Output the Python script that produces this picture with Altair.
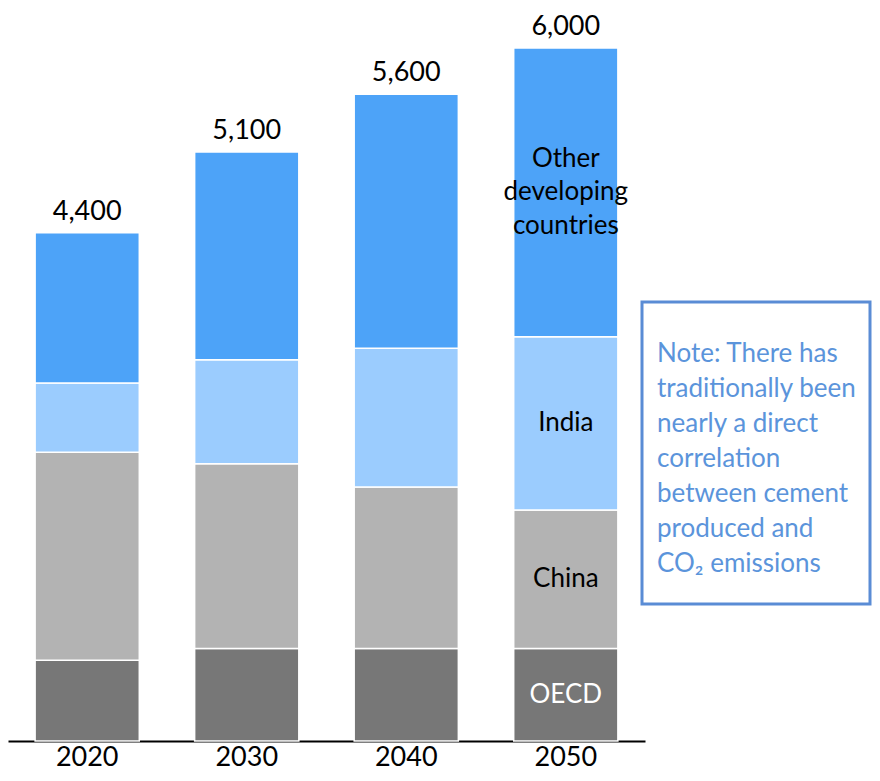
import altair as alt
import pandas as pd

years = ["2020", "2030", "2040", "2050"]
regions = ["OECD", "China", "India", "Other developing countries"]
oecd = [700, 800, 800, 800]
china = [1800, 1600, 1400, 1200]
india = [600, 900, 1200, 1500]
other = [1300, 1800, 2200, 2500]
totals = [4400, 5100, 5600, 6000]
total_labels = ["4,400", "5,100", "5,600", "6,000"]
segment_labels = ["OECD", "China", "India", "Other\ndeveloping\ncountries"]
colors = ["#777777", "#b3b3b3", "#9bccfe", "#4da3f8"]
note_lines = ["Note: There has", "traditionally been", "nearly a direct", "correlation",
              "between cement", "produced and", "CO₂ emissions"]

FONT = "Lato"

rows = []
series = [oecd, china, india, other]
for i, y in enumerate(years):
    base = 0
    for j, r in enumerate(regions):
        v = series[j][i]
        rows.append({"year": y, "region": r, "start": base, "end": base + v,
                     "mid": base + v / 2,
                     "label": segment_labels[j] if y == years[-1] else ""})
        base += v
df = pd.DataFrame(rows)
tot = pd.DataFrame({"year": years, "total": totals, "label": total_labels})

xenc = alt.X("year:N", sort=years,
             scale=alt.Scale(paddingInner=0.347, paddingOuter=0.17),
             axis=alt.Axis(title=None, labelAngle=0, labelFont=FONT, labelFontSize=27,
                           labelColor="black", labelPadding=3, ticks=False,
                           domainColor="black", domainWidth=2))
yscale = alt.Scale(domain=[0, 6329], nice=False, zero=True)

bars = alt.Chart(df).mark_bar(stroke="white", strokeWidth=1.5).encode(
    x=xenc,
    y=alt.Y("start:Q", scale=yscale, axis=None),
    y2="end:Q",
    color=alt.Color("region:N", sort=regions,
                    scale=alt.Scale(domain=regions, range=colors), legend=None),
)

seg_text = alt.Chart(df).transform_filter(
    "datum.label != '' && datum.region != 'Other developing countries'"
).mark_text(
    font=FONT, fontSize=26, baseline="middle", align="center"
).encode(
    x=alt.X("year:N", sort=years),
    y=alt.Y("mid:Q", scale=yscale),
    text="label:N",
    color=alt.condition("datum.region == 'OECD'", alt.value("white"), alt.value("black")),
)

other_text = alt.Chart(df).transform_filter(
    "datum.label != '' && datum.region == 'Other developing countries'"
).mark_text(
    font=FONT, fontSize=26, lineBreak="\n", lineHeight=33.5, baseline="middle",
    align="center", dy=-33.5, color="black"
).encode(
    x=alt.X("year:N", sort=years),
    y=alt.Y("mid:Q", scale=yscale),
    text="label:N",
)

tot_text = alt.Chart(tot).mark_text(
    font=FONT, fontSize=27, baseline="alphabetic", align="center", dy=-13, color="black"
).encode(
    x=alt.X("year:N", sort=years),
    y=alt.Y("total:Q", scale=yscale),
    text="label:N",
)

note_df = pd.DataFrame({"text": [note_lines]})
box = alt.Chart(note_df).mark_rect(fill="white", stroke="#5a8cd5", strokeWidth=3).encode(
    x=alt.value(634), x2=alt.value(862), y=alt.value(292), y2=alt.value(594)
)
note = alt.Chart(note_df).mark_text(
    font=FONT, fontSize=26, lineHeight=35, align="left", baseline="top", color="#5b94db"
).encode(
    x=alt.value(649), y=alt.value(331), text="text"
)

chart = alt.layer(bars, seg_text, other_text, tot_text, box, note).properties(
    width=637, height=731,
    autosize=alt.AutoSizeParams(type="none"),
    padding={"left": 0, "top": 2, "right": 227, "bottom": 32},
).configure_view(stroke=None)

chart.save("out.html", embed_options={"renderer": "svg", "actions": False})
